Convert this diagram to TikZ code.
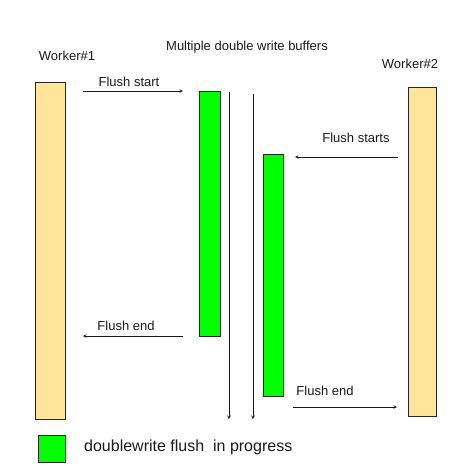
\documentclass[tikz,border=0pt]{standalone}
\usepackage{fontspec}
\setmainfont{Liberation Sans}
\definecolor{workeryellow}{HTML}{FFE599}
\definecolor{flushgreen}{HTML}{00FF00}
\begin{document}
\begin{tikzpicture}[x=1pt, y=-1pt,
    % Styles des barres
    worker/.style={rectangle, draw=black!85, fill=workeryellow, inner sep=0pt,
                   minimum width=30pt, line width=0.8pt},
    buffer/.style={rectangle, draw=black!85, fill=flushgreen, inner sep=0pt,
                   minimum width=21pt, line width=0.8pt},
    % Style des fleches
    arrow/.style={->, >=stealth, line width=0.6pt, color=black!90},
    % Style des textes
    label/.style={inner sep=0pt, font=\fontsize{13}{15}\selectfont, color=black!90}
]
\useasboundingbox (0,0) rectangle (454,466);

% ==========================================
% TITRES
% ==========================================
\node[label] (title) at (247, 47) {Multiple double write buffers};
\node[label] (worker1) at (67, 56) {Worker\#1};
\node[label] (worker2) at (410, 64) {Worker\#2};

% ==========================================
% BARRES
% ==========================================
\node[worker, minimum height=337pt] (w1) at (50, 250.5) {};
\node[worker, minimum width=28pt, minimum height=329pt] (w2) at (422, 251.5) {};
\node[buffer, minimum height=245pt] (b1) at (209.5, 213.5) {};
\node[buffer, minimum width=20pt, minimum height=242pt] (b2) at (273, 275) {};

% ==========================================
% FLECHES
% ==========================================
\coordinate (start1a) at (83, 91);
\coordinate (start1b) at (183, 91);
\coordinate (start2a) at (398, 157);
\coordinate (start2b) at (295, 157);
\coordinate (end1a) at (183, 336);
\coordinate (end1b) at (83, 336);
\coordinate (end2a) at (293, 407);
\coordinate (end2b) at (397, 407);
\coordinate (lane1a) at (229, 92);
\coordinate (lane1b) at (229, 419);
\coordinate (lane2a) at (253, 94);
\coordinate (lane2b) at (253, 419);

\draw[arrow] (start1a) -- (start1b);
\draw[arrow] (start2a) -- (start2b);
\draw[arrow] (end1a) -- (end1b);
\draw[arrow] (end2a) -- (end2b);
\draw[arrow] (lane1a) -- (lane1b);
\draw[arrow] (lane2a) -- (lane2b);

\node[label] (lstart1) at (129, 82) {Flush start};
\node[label] (lstart2) at (356, 138) {Flush starts};
\node[label] (lend1) at (126, 326) {Flush end};
\node[label] (lend2) at (325, 391) {Flush end};

% ==========================================
% LEGENDE
% ==========================================
\node[buffer, minimum width=27pt, minimum height=27pt] (key) at (51.5, 448.5) {};
\node[label, anchor=west, font=\fontsize{16}{19}\selectfont] (keytext) at (84, 447)
    {doublewrite flush \ in progress};

\end{tikzpicture}
\end{document}
